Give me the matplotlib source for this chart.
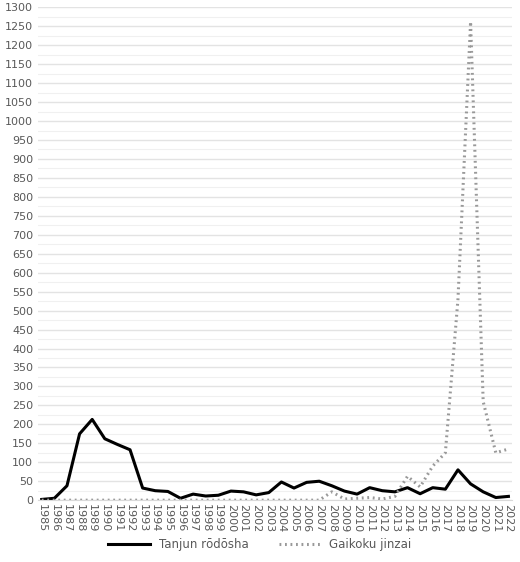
import matplotlib
matplotlib.use("Agg")
import matplotlib.pyplot as plt
import numpy as np

years = list(range(1985, 2023))
tanjun = [2, 5, 38, 175, 213, 162, 147, 133, 32, 25, 23, 5, 16, 11, 13, 24, 22, 14, 20,
          48, 32, 47, 50, 38, 24, 16, 33, 25, 22, 33, 17, 33, 29, 80, 43, 22, 7, 10]
gaikoku = [0]*23 + [22, 3, 5, 7, 3, 10, 63, 35, 90, 125, 530, 1262, 260, 125, 135]

fig = plt.figure(figsize=(5.2, 5.62), dpi=100)
ax = fig.add_axes([0.073, 0.11, 0.912, 0.877])
x = np.arange(len(years))
ax.plot(x, tanjun, color='black', lw=2.2, label='Tanjun rōdōsha')
ax.plot(x, gaikoku, color='#999999', lw=2.2, ls=(0, (0.6, 1.2)), label='Gaikoku jinzai')
ax.set_xlim(-0.3, len(years) - 0.7)
ax.set_ylim(0, 1300)
ax.set_yticks(range(0, 1301, 50))
ax.set_yticks(range(0, 1301, 25), minor=True)
ax.grid(axis='y', which='major', color='#e3e3e3', lw=1)
ax.grid(axis='y', which='minor', color='#f0f0f0', lw=0.8)
ax.set_axisbelow(True)
ax.set_xticks(x)
ax.set_xticklabels([str(y) for y in years], rotation=-90, fontsize=8, color='#595959')
ax.tick_params(axis='y', labelsize=8, labelcolor='#595959', length=0, which='both')
ax.tick_params(axis='x', length=0, pad=3)
for s in ['top', 'right', 'left']:
    ax.spines[s].set_visible(False)
ax.spines['bottom'].set_color('#d9d9d9')
fig.legend(loc='lower center', ncol=2, frameon=False, fontsize=8.5,
           bbox_to_anchor=(0.5, 0.0), handlelength=3.5, columnspacing=2.5,
           labelcolor='#595959')
fig.savefig('out.png', dpi=100)
